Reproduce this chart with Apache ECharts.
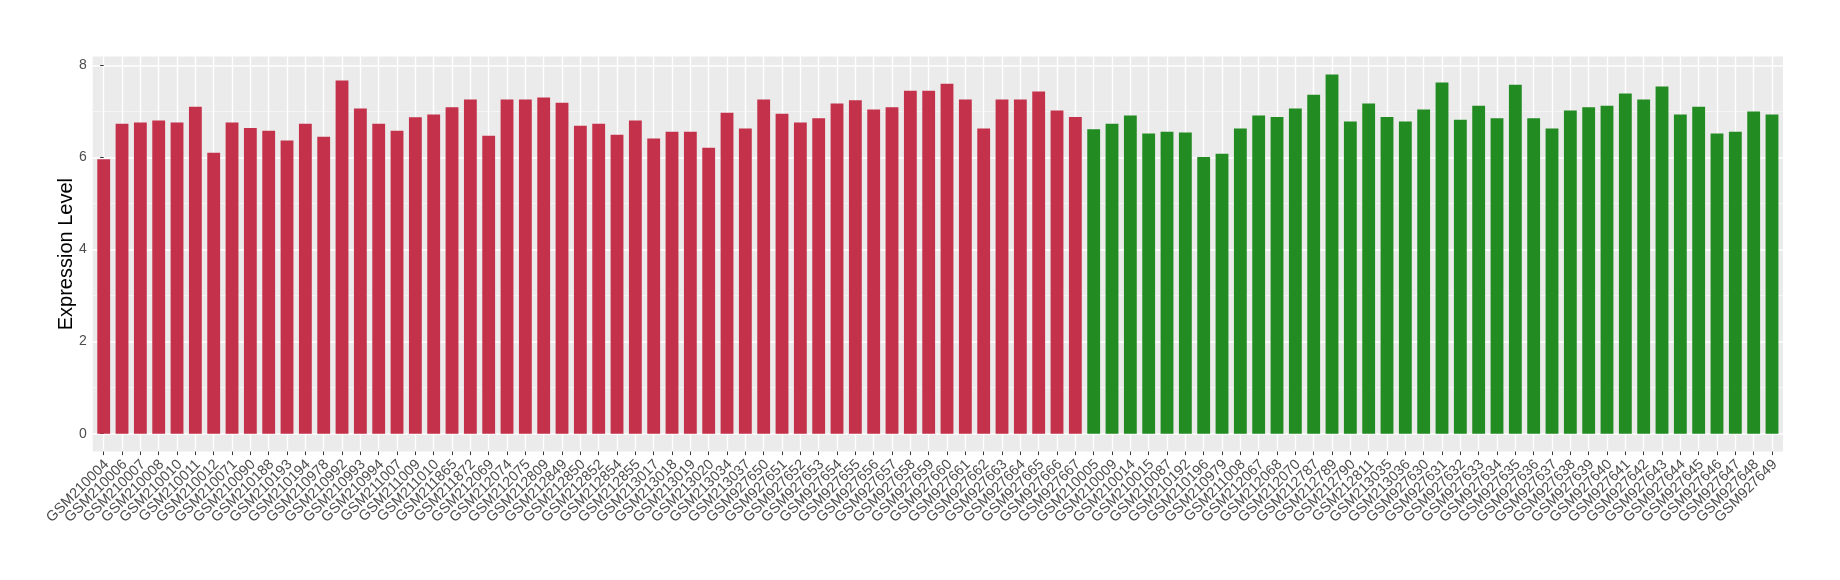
<!DOCTYPE html>
<html><head><meta charset="utf-8">
<script src="https://cdn.jsdelivr.net/npm/echarts@6/dist/echarts.min.js"></script>
<style>html,body{margin:0;padding:0;background:#fff}#c{width:1840px;height:580px}</style>
</head><body><div id="c"></div>
<script>
const samplesA = ["GSM210004","GSM210006","GSM210007","GSM210008","GSM210010","GSM210011","GSM210012","GSM210071","GSM210090","GSM210188","GSM210193","GSM210194","GSM210978","GSM210992","GSM210993","GSM210994","GSM211007","GSM211009","GSM211010","GSM211865","GSM211872","GSM212069","GSM212074","GSM212075","GSM212809","GSM212849","GSM212850","GSM212852","GSM212854","GSM212855","GSM213017","GSM213018","GSM213019","GSM213020","GSM213034","GSM213037","GSM927650","GSM927651","GSM927652","GSM927653","GSM927654","GSM927655","GSM927656","GSM927657","GSM927658","GSM927659","GSM927660","GSM927661","GSM927662","GSM927663","GSM927664","GSM927665","GSM927666","GSM927667"];
const valuesA = [5.96,6.73,6.76,6.80,6.76,7.10,6.10,6.76,6.64,6.58,6.37,6.73,6.45,7.67,7.06,6.73,6.58,6.87,6.93,7.09,7.26,6.47,7.26,7.26,7.30,7.19,6.69,6.73,6.49,6.80,6.41,6.56,6.56,6.21,6.97,6.63,7.26,6.95,6.76,6.85,7.17,7.24,7.04,7.09,7.45,7.45,7.60,7.26,6.63,7.26,7.26,7.43,7.02,6.88];
const samplesB = ["GSM210005","GSM210009","GSM210014","GSM210015","GSM210087","GSM210192","GSM210196","GSM210979","GSM211008","GSM212067","GSM212068","GSM212070","GSM212787","GSM212789","GSM212790","GSM212811","GSM213035","GSM213036","GSM927630","GSM927631","GSM927632","GSM927633","GSM927634","GSM927635","GSM927636","GSM927637","GSM927638","GSM927639","GSM927640","GSM927641","GSM927642","GSM927643","GSM927644","GSM927645","GSM927646","GSM927647","GSM927648","GSM927649"];
const valuesB = [6.61,6.73,6.91,6.52,6.56,6.54,6.01,6.08,6.63,6.91,6.88,7.06,7.36,7.80,6.78,7.17,6.88,6.78,7.04,7.63,6.82,7.12,6.85,7.58,6.85,6.63,7.02,7.09,7.12,7.39,7.26,7.54,6.93,7.10,6.52,6.56,7.00,6.93];
const yTicks = [0, 2, 4, 6, 8];
const yMinorTicks = [1, 3, 5, 7];
const yTitle = "Expression Level";
const colorA = "#C4314B";
const colorB = "#228B22";

const categories = samplesA.concat(samplesB);
const catIndex = categories.map((_, i) => i);
const barData = valuesA.map((v, i) => ({ value: [i, v], itemStyle: { color: colorA } }))
  .concat(valuesB.map((v, i) => ({ value: [samplesA.length + i, v], itemStyle: { color: colorB } })));
const n = categories.length;
const allVals = valuesA.concat(valuesB);
const yMax = Math.max(...allVals);
const pad = yMax * 0.05;
const FONT = "Liberation Sans, Arial, Helvetica, sans-serif";

// panel layout (ggplot-like discrete expansion of 0.6 on each side)
const PL = 92.7, PT = 56.6, PW = 1690.3, PH = 395;
const unit = PW / (n + 0.2);

const chart = echarts.init(document.getElementById('c'), null, { renderer: 'canvas' });
chart.setOption({
  animation: false,
  backgroundColor: '#ffffff',
  grid: [
    { left: PL, top: PT, width: PW, height: PH, show: true, backgroundColor: '#EBEBEB', borderWidth: 0, containLabel: false },
    { left: PL + 0.1 * unit, top: PT, width: n * unit, height: PH, show: false, containLabel: false }
  ],
  xAxis: [{
    gridIndex: 0, type: 'value', min: -0.6, max: n - 1 + 0.6,
    axisLine: { show: false },
    axisTick: { show: false, customValues: catIndex },
    axisLabel: { show: false, customValues: catIndex },
    splitLine: { show: true, lineStyle: { color: '#FFFFFF', width: 1.4 } }
  }, {
    gridIndex: 1, type: 'category', data: categories, boundaryGap: true,
    axisLine: { show: false },
    axisTick: { show: true, alignWithLabel: true, interval: 0, length: 3.5, lineStyle: { color: '#333333', width: 1 } },
    axisLabel: { interval: 0, rotate: 45, margin: 13.5, padding: [0, -4, 0, 0], fontSize: 14.5, color: '#4D4D4D', fontFamily: FONT, hideOverlap: false },
    splitLine: { show: false }
  }],
  yAxis: [{
    gridIndex: 0, type: 'value', min: -pad, max: yMax + pad,
    name: yTitle, nameLocation: 'middle', nameGap: 16, nameRotate: 90, nameMoveOverlap: false,
    nameTextStyle: { fontSize: 20, color: '#000000', fontFamily: FONT },
    axisLine: { show: false },
    axisTick: { show: true, customValues: yTicks, length: 3.5, lineStyle: { color: '#333333', width: 1 } },
    axisLabel: { customValues: yTicks, margin: 6, fontSize: 14, color: '#4D4D4D', fontFamily: FONT },
    splitLine: { show: true, lineStyle: { color: '#FFFFFF', width: 1.6 } }
  }, {
    gridIndex: 0, type: 'value', min: -pad, max: yMax + pad,
    axisLine: { show: false },
    axisTick: { show: false, customValues: yMinorTicks },
    axisLabel: { show: false, customValues: yMinorTicks },
    splitLine: { show: true, lineStyle: { color: '#F7F7F7', width: 0.8 } }
  }, {
    gridIndex: 1, type: 'value', show: false, min: 0, max: 1
  }],
  series: [{
    type: 'bar', xAxisIndex: 0, yAxisIndex: 0,
    barWidth: '70%',
    data: barData
  }]
});
</script></body></html>
